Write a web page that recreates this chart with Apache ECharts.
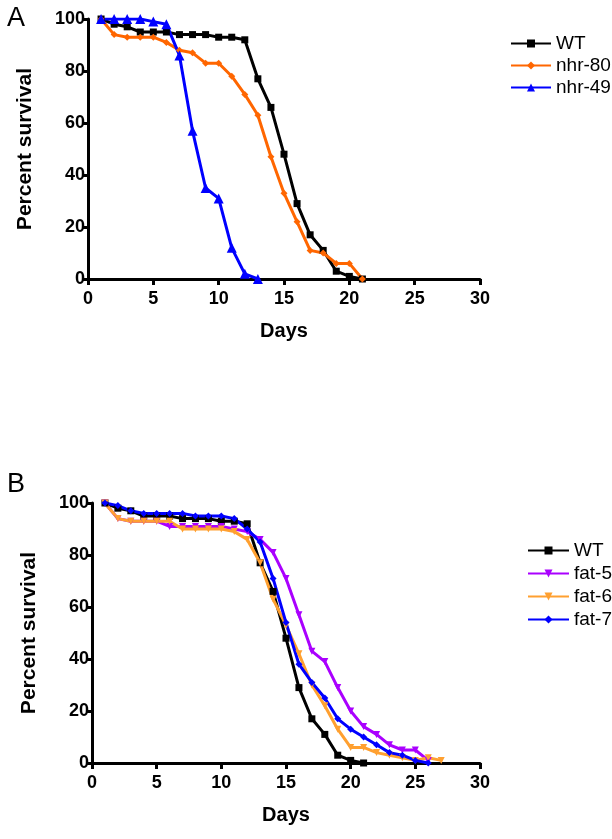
<!DOCTYPE html>
<html><head><meta charset="utf-8">
<script src="https://cdn.jsdelivr.net/npm/echarts@6/dist/echarts.min.js"></script>
<style>html,body{margin:0;padding:0;background:#fff}#c{width:612px;height:839px}</style>
</head><body><div id="c"></div>
<script>
const xTicks = [0,5,10,15,20,25,30];
const yTicks = [0,20,40,60,80,100];
// Panel A
const daysWT = [1,2,3,4,5,6,7,8,9,10,11,12,13,14,15,16,17,18,19,20,21];
const wtA = [100,98,97,95,95,95,94,94,94,93,93,92,77,66,48,29,17,11,3,1,0];
const daysNhr80 = [1,2,3,4,5,6,7,8,9,10,11,12,13,14,15,16,17,18,19,20,21];
const nhr80 = [100,94,93,93,93,91,88,87,83,83,78,71,63,47,33,22,11,10,6,6,0];
const daysNhr49 = [1,2,3,4,5,6,7,8,9,10,11,12,13];
const nhr49 = [100,100,100,100,99,98,86,57,35,31,12,2,0];
// Panel B
const wtB = [100,98,97,95,95,95,94,94,94,93,93,92,77,66,48,29,17,11,3,1,0];
const daysFat5 = [1,2,3,4,5,6,7,8,9,10,11,12,13,14,15,16,17,18,19,20,21,22,23,24,25,26];
const fat5 = [100,94,93,93,93,91,91,91,91,91,90,89,86,81,71,57,43,39,29,20,14,11,7,5,5,1];
const daysFat6 = [1,2,3,4,5,6,7,8,9,10,11,12,13,14,15,16,17,18,19,20,21,22,23,24,25,26,27];
const fat6 = [100,94,93,93,93,93,90,90,90,90,89,86,77,63,53,42,30,22,13,6,6,4,3,2,1,2,1];
const daysFat7 = [1,2,3,4,5,6,7,8,9,10,11,12,13,14,15,16,17,18,19,20,21,22,23,24,25,26];
const fat7 = [100,99,97,96,96,96,96,95,95,95,94,90,85,71,54,38,31,25,17,13,10,7,4,3,1,0];

const pair = (xs, ys) => xs.map((x,i)=>[x, ys[i]]);
const FONT = 'Liberation Sans, Arial, sans-serif';

function xAxis(gi){
  return {gridIndex: gi, type:'value', min:0, max:30, interval:5,
    name:'Days', nameLocation:'middle', nameGap:42,
    nameTextStyle:{fontFamily:FONT, fontWeight:'bold', fontSize:20, color:'#000'},
    axisLine:{show:true, onZero:false, lineStyle:{color:'#000', width:3}},
    axisTick:{show:true, length:6, lineStyle:{color:'#000', width:3}},
    axisLabel:{fontFamily:FONT, fontWeight:'bold', fontSize:18, color:'#000', margin:11,
      formatter: v => xTicks.includes(v) ? String(v) : ''},
    splitLine:{show:false}};
}
function yAxis(gi){
  return {gridIndex: gi, type:'value', min:0, max:100, interval:20,
    name:'Percent survival', nameLocation:'middle', nameGap:52, nameRotate:90,
    nameTextStyle:{fontFamily:FONT, fontWeight:'bold', fontSize:21, color:'#000'},
    axisLine:{show:true, onZero:false, lineStyle:{color:'#000', width:3}},
    axisTick:{show:true, length:6, lineStyle:{color:'#000', width:3}},
    axisLabel:{fontFamily:FONT, fontWeight:'bold', fontSize:18, color:'#000', margin:3,
      formatter: v => yTicks.includes(v) ? String(v) : ''},
    splitLine:{show:false}};
}
function line(name, data, color, symbol, gi, rot, size){
  return {name, type:'line', xAxisIndex:gi, yAxisIndex:gi, data, symbol, symbolSize:size||7,
    symbolRotate: rot||0, showSymbol:true,
    lineStyle:{color, width:3}, itemStyle:{color}, emphasis:{disabled:true}, animation:false};
}

const chart = echarts.init(document.getElementById('c'), null, {renderer:'canvas'});
chart.setOption({
  animation:false,
  backgroundColor:'#fff',
  title:[
    {text:'A', left:2, top:0, textStyle:{fontFamily:FONT, fontWeight:'normal', fontSize:27, color:'#000'}},
    {text:'B', left:2, top:466, textStyle:{fontFamily:FONT, fontWeight:'normal', fontSize:27, color:'#000'}}
  ],
  grid:[
    {left:88, top:19, width:392, height:260},
    {left:92, top:503, width:388, height:260}
  ],
  xAxis:[xAxis(0), xAxis(1)],
  yAxis:[yAxis(0), yAxis(1)],
  legend:[
    {data:['WT','nhr-80','nhr-49'], orient:'vertical', left:505, top:29, itemWidth:40, itemHeight:10, itemGap:3,
      textStyle:{fontFamily:FONT, fontSize:19, color:'#000'}},
    {data:['WT','fat-5','fat-6','fat-7'], orient:'vertical', left:522, top:536, itemWidth:41, itemHeight:10, itemGap:4,
      textStyle:{fontFamily:FONT, fontSize:19, color:'#000'}}
  ],
  series:[
    line('WT', pair(daysWT, wtA), '#000000', 'rect', 0, 0, 7),
    line('nhr-80', pair(daysNhr80, nhr80), '#ff6600', 'diamond', 0, 0, 7),
    line('nhr-49', pair(daysNhr49, nhr49), '#0000ff', 'triangle', 0, 0, 10),
    line('WT', pair(daysWT, wtB), '#000000', 'rect', 1, 0, 7),
    line('fat-5', pair(daysFat5, fat5), '#aa00ff', 'triangle', 1, 180, 7),
    line('fat-6', pair(daysFat6, fat6), '#ffa030', 'triangle', 1, 180, 7),
    line('fat-7', pair(daysFat7, fat7), '#0000ff', 'diamond', 1, 0, 7)
  ]
});
</script></body></html>
